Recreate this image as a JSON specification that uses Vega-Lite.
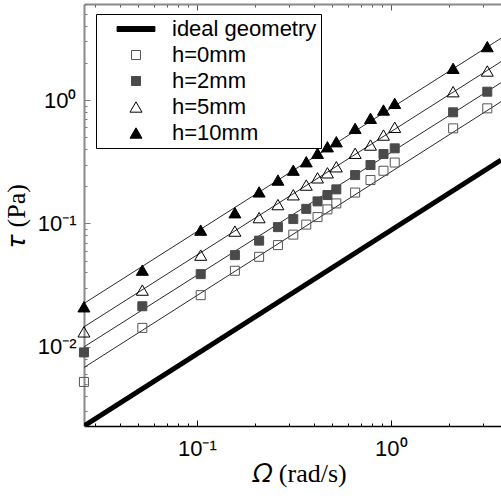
{
  "$schema": "https://vega.github.io/schema/vega-lite/v6.json",
  "autosize": {"type": "none"},
  "width": 417,
  "height": 422,
  "padding": {"left": 84, "top": 4, "right": 0, "bottom": 78},
  "background": "white",
  "config": {"view": {"stroke": null}, "axis": {"grid": false}, "font": "Liberation Sans"},
  "datasets": {
    "pts": [
      {"series": "h=0mm", "omega": 0.02618, "tau": 0.00519},
      {"series": "h=0mm", "omega": 0.05236, "tau": 0.01423},
      {"series": "h=0mm", "omega": 0.1047, "tau": 0.0262},
      {"series": "h=0mm", "omega": 0.1571, "tau": 0.0413},
      {"series": "h=0mm", "omega": 0.2094, "tau": 0.0536},
      {"series": "h=0mm", "omega": 0.2618, "tau": 0.0667},
      {"series": "h=0mm", "omega": 0.3142, "tau": 0.0811},
      {"series": "h=0mm", "omega": 0.3665, "tau": 0.0978},
      {"series": "h=0mm", "omega": 0.4189, "tau": 0.1125},
      {"series": "h=0mm", "omega": 0.4712, "tau": 0.1299},
      {"series": "h=0mm", "omega": 0.5236, "tau": 0.1452},
      {"series": "h=0mm", "omega": 0.6545, "tau": 0.1778},
      {"series": "h=0mm", "omega": 0.7854, "tau": 0.2245},
      {"series": "h=0mm", "omega": 0.9163, "tau": 0.2671},
      {"series": "h=0mm", "omega": 1.0472, "tau": 0.3113},
      {"series": "h=0mm", "omega": 2.0944, "tau": 0.5894},
      {"series": "h=0mm", "omega": 3.1416, "tau": 0.856},
      {"series": "h=2mm", "omega": 0.02618, "tau": 0.009},
      {"series": "h=2mm", "omega": 0.05236, "tau": 0.0213},
      {"series": "h=2mm", "omega": 0.1047, "tau": 0.0388},
      {"series": "h=2mm", "omega": 0.1571, "tau": 0.0553},
      {"series": "h=2mm", "omega": 0.2094, "tau": 0.0725},
      {"series": "h=2mm", "omega": 0.2618, "tau": 0.0933},
      {"series": "h=2mm", "omega": 0.3142, "tau": 0.1084},
      {"series": "h=2mm", "omega": 0.3665, "tau": 0.1312},
      {"series": "h=2mm", "omega": 0.4189, "tau": 0.1508},
      {"series": "h=2mm", "omega": 0.4712, "tau": 0.1697},
      {"series": "h=2mm", "omega": 0.5236, "tau": 0.1887},
      {"series": "h=2mm", "omega": 0.6545, "tau": 0.2464},
      {"series": "h=2mm", "omega": 0.7854, "tau": 0.2971},
      {"series": "h=2mm", "omega": 0.9163, "tau": 0.3648},
      {"series": "h=2mm", "omega": 1.0472, "tau": 0.4058},
      {"series": "h=2mm", "omega": 2.0944, "tau": 0.795},
      {"series": "h=2mm", "omega": 3.1416, "tau": 1.168},
      {"series": "h=5mm", "omega": 0.02618, "tau": 0.01321},
      {"series": "h=5mm", "omega": 0.05236, "tau": 0.0288},
      {"series": "h=5mm", "omega": 0.1047, "tau": 0.0553},
      {"series": "h=5mm", "omega": 0.1571, "tau": 0.0866},
      {"series": "h=5mm", "omega": 0.2094, "tau": 0.1114},
      {"series": "h=5mm", "omega": 0.2618, "tau": 0.142},
      {"series": "h=5mm", "omega": 0.3142, "tau": 0.1706},
      {"series": "h=5mm", "omega": 0.3665, "tau": 0.2045},
      {"series": "h=5mm", "omega": 0.4189, "tau": 0.234},
      {"series": "h=5mm", "omega": 0.4712, "tau": 0.257},
      {"series": "h=5mm", "omega": 0.5236, "tau": 0.2877},
      {"series": "h=5mm", "omega": 0.6545, "tau": 0.37},
      {"series": "h=5mm", "omega": 0.7854, "tau": 0.4315},
      {"series": "h=5mm", "omega": 0.9163, "tau": 0.52},
      {"series": "h=5mm", "omega": 1.0472, "tau": 0.601},
      {"series": "h=5mm", "omega": 2.0944, "tau": 1.168},
      {"series": "h=5mm", "omega": 3.1416, "tau": 1.718},
      {"series": "h=10mm", "omega": 0.02618, "tau": 0.0211},
      {"series": "h=10mm", "omega": 0.05236, "tau": 0.0418},
      {"series": "h=10mm", "omega": 0.1047, "tau": 0.0882},
      {"series": "h=10mm", "omega": 0.1571, "tau": 0.122},
      {"series": "h=10mm", "omega": 0.2094, "tau": 0.18},
      {"series": "h=10mm", "omega": 0.2618, "tau": 0.2245},
      {"series": "h=10mm", "omega": 0.3142, "tau": 0.27},
      {"series": "h=10mm", "omega": 0.3665, "tau": 0.316},
      {"series": "h=10mm", "omega": 0.4189, "tau": 0.37},
      {"series": "h=10mm", "omega": 0.4712, "tau": 0.418},
      {"series": "h=10mm", "omega": 0.5236, "tau": 0.459},
      {"series": "h=10mm", "omega": 0.6545, "tau": 0.589},
      {"series": "h=10mm", "omega": 0.7854, "tau": 0.711},
      {"series": "h=10mm", "omega": 0.9163, "tau": 0.83},
      {"series": "h=10mm", "omega": 1.0472, "tau": 0.94},
      {"series": "h=10mm", "omega": 2.0944, "tau": 1.807},
      {"series": "h=10mm", "omega": 3.1416, "tau": 2.71}
    ],
    "fits": [
      {"series": "h=0mm", "omega": 0.0262, "tau": 0.00679},
      {"series": "h=0mm", "omega": 3.697, "tau": 0.9687},
      {"series": "h=2mm", "omega": 0.0262, "tau": 0.00998},
      {"series": "h=2mm", "omega": 3.697, "tau": 1.381},
      {"series": "h=5mm", "omega": 0.0262, "tau": 0.0145},
      {"series": "h=5mm", "omega": 3.697, "tau": 2.045},
      {"series": "h=10mm", "omega": 0.0262, "tau": 0.02245},
      {"series": "h=10mm", "omega": 3.697, "tau": 3.166}
    ],
    "ideal": [
      {"omega": 0.0262, "tau": 0.00228},
      {"omega": 3.697, "tau": 0.3256}
    ]
  },
  "resolve": {"axis": {"x": "independent", "y": "independent"}},
  "layer": [
    {
      "data": {"name": "fits"},
      "mark": {"type": "line", "color": "#2a2a2a", "strokeWidth": 1, "clip": true},
      "encoding": {
        "x": {"field": "omega", "type": "quantitative",
          "scale": {"type": "log", "domain": [0.0262, 3.697], "nice": false, "zero": false},
          "axis": {
            "orient": "bottom",
            "values": [0.03, 0.04, 0.05, 0.06, 0.07, 0.08, 0.09, 0.1, 0.2, 0.3, 0.4, 0.5, 0.6, 0.7, 0.8, 0.9, 1, 2, 3],
            "labelExpr": "datum.value == 0.1 ? '10⁻¹' : datum.value == 1 ? '10⁰' : ''",
            "labelFont": "Liberation Sans", "labelFontSize": 22, "labelColor": "black",
            "labelPadding": 18, "labelFlush": false, "labelOverlap": false,
            "tickSize": {"condition": {"test": "datum.value == 0.1 || datum.value == 1", "value": -6}, "value": -3},
            "tickColor": "black", "tickWidth": 1,
            "domainColor": "black", "domainWidth": 1.5,
            "title": "𝛺 (rad/s)", "titleFont": "Liberation Serif", "titleFontSize": 26,
            "titleFontWeight": "normal", "titleColor": "black", "titleX": 215, "titleY": 34, "titleBaseline": "top"
          }
        },
        "y": {"field": "tau", "type": "quantitative",
          "scale": {"type": "log", "domain": [0.00228, 6.0], "nice": false, "zero": false},
          "axis": {
            "orient": "left",
            "values": [0.003, 0.004, 0.005, 0.006, 0.007, 0.008, 0.009, 0.01, 0.02, 0.03, 0.04, 0.05, 0.06, 0.07, 0.08, 0.09, 0.1, 0.2, 0.3, 0.4, 0.5, 0.6, 0.7, 0.8, 0.9, 1, 2, 3, 4, 5, 6],
            "labelExpr": "datum.value == 0.01 ? '10⁻²' : datum.value == 0.1 ? '10⁻¹' : datum.value == 1 ? '10⁰' : ''",
            "labelFont": "Liberation Sans", "labelFontSize": 22, "labelColor": "black",
            "labelPadding": 14, "labelFlush": false, "labelOverlap": false,
            "tickSize": {"condition": {"test": "datum.value == 0.01 || datum.value == 0.1 || datum.value == 1", "value": -6}, "value": -3},
            "tickColor": "#7a7a7a", "tickWidth": 1,
            "domainColor": "#8a8a8a", "domainWidth": 2,
            "title": "𝜏 (Pa)", "titleFont": "Liberation Serif", "titleFontSize": 26,
            "titleFontWeight": "normal", "titleColor": "black", "titlePadding": 8
          }
        },
        "detail": {"field": "series", "type": "nominal"}
      }
    },
    {
      "data": {"name": "ideal"},
      "mark": {"type": "line", "color": "black", "strokeWidth": 5, "clip": true},
      "encoding": {
        "x": {"field": "omega", "type": "quantitative",
          "axis": {
            "orient": "top",
            "values": [0.03, 0.04, 0.05, 0.06, 0.07, 0.08, 0.09, 0.1, 0.2, 0.3, 0.4, 0.5, 0.6, 0.7, 0.8, 0.9, 1, 2, 3],
            "labels": false, "title": null,
            "tickSize": {"condition": {"test": "datum.value == 0.1 || datum.value == 1", "value": -6}, "value": -3},
            "tickColor": "#555555", "tickWidth": 1,
            "domainColor": "#8a8a8a", "domainWidth": 2
          }
        },
        "y": {"field": "tau", "type": "quantitative", "axis": null}
      }
    },
    {
      "data": {"name": "pts"},
      "mark": {"type": "point", "opacity": 1, "strokeWidth": 1, "size": 81},
      "encoding": {
        "x": {"field": "omega", "type": "quantitative", "axis": null},
        "y": {"field": "tau", "type": "quantitative", "axis": null},
        "shape": {"field": "series", "type": "nominal",
          "scale": {"domain": ["ideal geometry", "h=0mm", "h=2mm", "h=5mm", "h=10mm"],
            "range": ["M-4.2,-0.55H4.2V0.55H-4.2Z", "square", "square", "M0,-1.15L-1.33,1.15L1.33,1.15Z", "M0,-1.15L-1.33,1.15L1.33,1.15Z"]},
          "legend": {"title": null, "orient": "none", "legendX": 12, "legendY": 10, "strokeColor": "black", "fillColor": "white", "padding": 4,
            "labelFont": "Liberation Sans", "labelFontSize": 22, "labelColor": "black", "symbolSize": 81, "symbolStrokeWidth": 1,
            "rowPadding": 4, "symbolOffset": 25, "labelOffset": 25}
        },
        "fill": {"field": "series", "type": "nominal",
          "scale": {"domain": ["ideal geometry", "h=0mm", "h=2mm", "h=5mm", "h=10mm"],
            "range": ["black", "transparent", "#4a4a4a", "transparent", "black"]},
          "legend": {"title": null, "orient": "none", "legendX": 12, "legendY": 10, "strokeColor": "black", "fillColor": "white", "padding": 4,
            "labelFont": "Liberation Sans", "labelFontSize": 22, "labelColor": "black", "symbolSize": 81, "symbolStrokeWidth": 1,
            "rowPadding": 4, "symbolOffset": 25, "labelOffset": 25}
        },
        "stroke": {"field": "series", "type": "nominal",
          "scale": {"domain": ["ideal geometry", "h=0mm", "h=2mm", "h=5mm", "h=10mm"],
            "range": ["black", "#555555", "#4a4a4a", "black", "black"]},
          "legend": {"title": null, "orient": "none", "legendX": 12, "legendY": 10, "strokeColor": "black", "fillColor": "white", "padding": 4,
            "labelFont": "Liberation Sans", "labelFontSize": 22, "labelColor": "black", "symbolSize": 81, "symbolStrokeWidth": 1,
            "rowPadding": 4, "symbolOffset": 25, "labelOffset": 25}
        }
      }
    }
  ]
}
